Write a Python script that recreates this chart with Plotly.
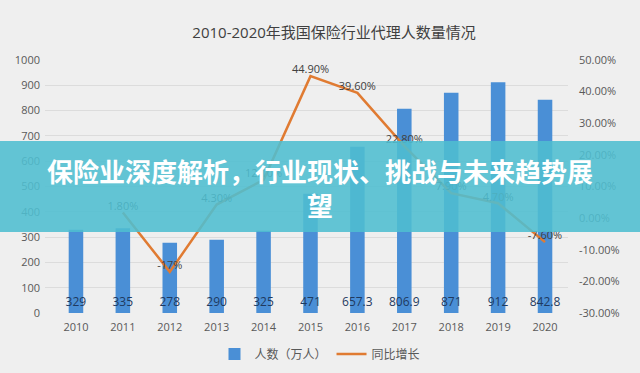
import plotly.graph_objects as go

years = ["2010", "2011", "2012", "2013", "2014", "2015", "2016", "2017", "2018", "2019", "2020"]
agents = [329, 335, 278, 290, 325, 471, 657.3, 806.9, 871, 912, 842.8]
agent_labels = ["329", "335", "278", "290", "325", "471", "657.3", "806.9", "871", "912", "842.8"]
growth_years = ["2011", "2012", "2013", "2014", "2015", "2016", "2017", "2018", "2019", "2020"]
growth = [1.8, -17, 4.3, 12.1, 44.9, 39.6, 22.8, 7.9, 4.7, -7.6]
growth_labels = ["1.80%", "-17%", "4.30%", "12.10%", "44.90%", "39.60%", "22.80%", "7.90%", "4.70%", "-7.60%"]
left_ticks = [0, 100, 200, 300, 400, 500, 600, 700, 800, 900, 1000]
right_ticks = [-30, -20, -10, 0, 10, 20, 30, 40, 50]

FONT = "Open Sans, Noto Sans CJK SC, sans-serif"

fig = go.Figure()
fig.add_trace(go.Bar(
    x=years, y=agents, name="人数（万人）", width=0.31,
    marker=dict(color="#4a8fd6", line=dict(width=0)),
    text=agent_labels, textposition="inside", insidetextanchor="start",
    constraintext="none", textangle=0, cliponaxis=False,
    insidetextfont=dict(color="#1f3a5f", size=12, family=FONT),
))
fig.add_trace(go.Scatter(
    x=growth_years, y=growth, name="同比增长", yaxis="y2", mode="lines+text",
    line=dict(color="#e07b32", width=2.5),
    text=growth_labels, textposition="top center",
    textfont=dict(color="#404040", size=11, family=FONT), cliponaxis=False,
))

W, H = 640, 373
ml, mr, mt, mb = 45, 72, 60, 60
pw = W - ml - mr
ph = H - mt - mb

def px_x(p):
    return (p - ml) / pw

def px_y(p):
    return (H - mb - p) / ph

fig.update_layout(
    width=W, height=H,
    margin=dict(l=ml, r=mr, t=mt, b=mb, autoexpand=False),
    paper_bgcolor="#efefef", plot_bgcolor="rgba(0,0,0,0)",
    font=dict(family=FONT, color="#595959", size=11),
    title=dict(text="2010-2020年我国保险行业代理人数量情况", x=px_x(318), xanchor="center",
               y=1 - 33 / H, yanchor="middle", automargin=False,
               font=dict(size=15, color="#404040", family=FONT)),
    xaxis=dict(type="category", range=[-0.66, 10.49], tickfont=dict(size=11, color="#595959"),
               showgrid=False, showline=False, ticks="", ticklabelstandoff=6, automargin=False),
    yaxis=dict(range=[0, 1000], tickvals=left_ticks, showgrid=True, gridcolor="#dcdcdc",
               gridwidth=1, zeroline=False, tickfont=dict(size=11, color="#595959"),
               ticklabelstandoff=4, automargin=False),
    yaxis2=dict(range=[-30, 50], tickvals=right_ticks, ticktext=[f"{v:.2f}%" for v in right_ticks],
                overlaying="y", side="right", showgrid=False, zeroline=False,
                tickfont=dict(size=11, color="#595959"), ticklabelstandoff=10, automargin=False),
    showlegend=True,
    legend=dict(orientation="h", x=px_x(320), xanchor="center", y=px_y(354), yanchor="middle",
                font=dict(size=12, color="#595959"), bgcolor="rgba(0,0,0,0)",
                itemwidth=30),
    bargap=0.69,
)

fig.add_shape(type="rect", xref="paper", yref="paper",
              x0=px_x(0), x1=px_x(W), y0=px_y(232), y1=px_y(141),
              fillcolor="rgba(78,190,208,0.88)", line=dict(width=0), layer="above")
fig.add_annotation(xref="paper", yref="paper", x=px_x(320), y=px_y(187),
                   xanchor="center", yanchor="middle", showarrow=False,
                   text="<b>保险业深度解析，行业现状、挑战与未来趋势展<br>望</b>",
                   font=dict(size=26, color="white", family="Noto Sans CJK SC"),
                   align="center")

fig.write_html("out.html", config={"displayModeBar": False},
               post_script="document.body.style.margin='0';document.body.style.background='#efefef';")
